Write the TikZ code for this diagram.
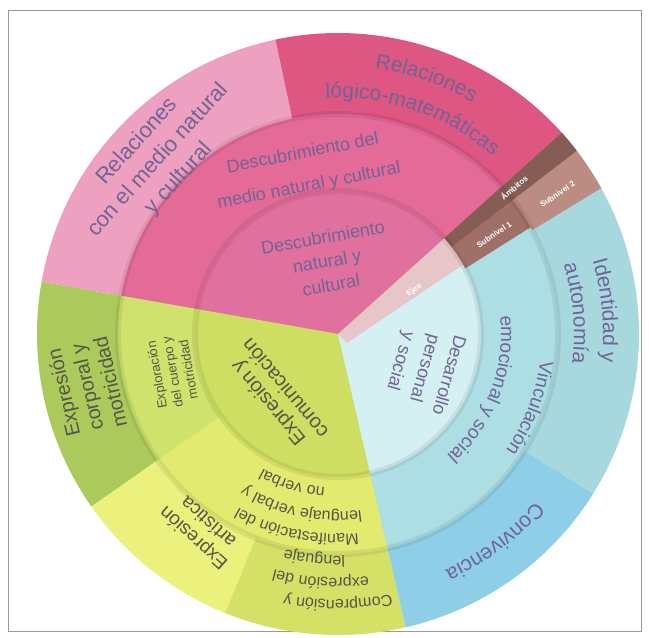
\documentclass[tikz,border=0pt]{standalone}
\usepackage{fontspec}
\setmainfont{Liberation Sans}
\usetikzlibrary{decorations.text}

\definecolor{rosaclaro}{RGB}{238,160,192}
\definecolor{rosafuerte}{RGB}{222,86,130}
\definecolor{rosamedio}{RGB}{228,106,152}
\definecolor{rosacentro}{RGB}{224,112,158}
\definecolor{verdeosc}{RGB}{172,202,92}
\definecolor{verdemed}{RGB}{206,226,108}
\definecolor{verdecentro}{RGB}{206,222,98}
\definecolor{amarillo}{RGB}{236,240,124}
\definecolor{amarillomed}{RGB}{226,234,112}
\definecolor{verdelengua}{RGB}{212,224,102}
\definecolor{celesteosc}{RGB}{142,206,230}
\definecolor{celesteid}{RGB}{166,216,222}
\definecolor{celestemed}{RGB}{172,222,228}
\definecolor{celestecentro}{RGB}{212,240,242}
\definecolor{cafe}{RGB}{160,112,104}
\definecolor{cafeclaro}{RGB}{186,140,130}
\definecolor{cafeosc}{RGB}{134,92,86}
\definecolor{ejes}{RGB}{230,198,200}
\definecolor{txtmorado}{RGB}{112,100,150}
\definecolor{txtverde}{RGB}{86,86,72}

\newcommand\tmorado[1]{\fontsize{#1}{#1}\selectfont\color{txtmorado}}
\newcommand\tverde[1]{\fontsize{#1}{#1}\selectfont\color{txtverde}}

\begin{document}
\begin{tikzpicture}[x=1pt, y=1pt,
    rotulo/.style={align=center, inner sep=0pt, text=txtmorado},
    rotuloverde/.style={rotulo, text=txtverde},
    rotulobanda/.style={inner sep=0pt, text=white, font=\bfseries\fontsize{8}{9}\selectfont},
    enarco/.style={decorate, decoration={text along path, text align=center, text={#1}}}]
\useasboundingbox (-338,-304) rectangle (311,334);
\draw[gray!80, line width=0.8] (-330,-297) rectangle (303,324);

\begin{scope}
    %% anillo exterior
    \fill[rosaclaro] (0,0) -- (102:301) arc[start angle=102, end angle=170, radius=301] -- cycle;
    \fill[rosafuerte] (0,0) -- (42:301) arc[start angle=42, end angle=102, radius=301] -- cycle;
    \fill[verdeosc] (0,0) -- (170:301) arc[start angle=170, end angle=215, radius=301] -- cycle;
    \fill[amarillo] (0,0) -- (215:301) arc[start angle=215, end angle=248, radius=301] -- cycle;
    \fill[verdelengua] (0,0) -- (248:301) arc[start angle=248, end angle=283, radius=301] -- cycle;
    \fill[celesteosc] (0,0) -- (-77:301) arc[start angle=-77, end angle=-32, radius=301] -- cycle;
    \fill[celesteid] (0,0) -- (-32:301) arc[start angle=-32, end angle=29, radius=301] -- cycle;
    \fill[cafeclaro] (0,0) -- (9,-9) -- (29:301) arc[start angle=29, end angle=42, radius=301] -- cycle;
    %% anillo medio
    \fill[rosamedio] (0,0) -- (42:220) arc[start angle=42, end angle=170, radius=220] -- cycle;
    \fill[verdemed] (0,0) -- (170:220) arc[start angle=170, end angle=215, radius=220] -- cycle;
    \fill[amarillomed] (0,0) -- (215:220) arc[start angle=215, end angle=283, radius=220] -- cycle;
    \fill[celestemed] (0,0) -- (-77:220) arc[start angle=-77, end angle=29, radius=220] -- cycle;
    \fill[cafe] (0,0) -- (9,-9) -- (29:220) arc[start angle=29, end angle=42, radius=220] -- cycle;
    \fill[cafeosc] (37.5:143) -- (37.5:301) arc[start angle=37.5, end angle=42, radius=301] -- (42:143) -- cycle;
    %% circulo central
    \fill[rosacentro] (0,0) -- (42:143) arc[start angle=42, end angle=170, radius=143] -- cycle;
    \fill[verdecentro] (0,0) -- (170:143) arc[start angle=170, end angle=283, radius=143] -- cycle;
    \fill[celestecentro] (0,0) -- (-77:143) arc[start angle=-77, end angle=29, radius=143] -- cycle;
    \fill[ejes] (0,0) -- (9,-9) -- (29:143) arc[start angle=29, end angle=42, radius=143] -- cycle;
    \draw[black, opacity=.07, line width=6] (0,0) circle (143);
    \draw[black, opacity=.07, line width=6] (0,0) circle (220);
\end{scope}

%% sector rosa
\node[rotulo, rotate=48, font=\fontsize{22}{28}\selectfont] (relmedio) at (136:250) {Relaciones\\con el medio natural\\y cultural};
\path[enarco={|\tmorado{21}|Relaciones}] (111:268) arc[start angle=111, end angle=31, radius=268];
\path[enarco={|\tmorado{21}|lógico-matemáticas}] (116:236) arc[start angle=116, end angle=26, radius=236];
\node[rotulo, rotate=11, font=\fontsize{18}{33}\selectfont] (descmedio) at (-32,164) {Descubrimiento del\\medio natural y cultural};
\node[rotulo, rotate=10, font=\fontsize{18}{24}\selectfont] (descubre) at (-11,73) {Descubrimiento\\natural y\\cultural};

%% sector celeste
\path[enarco={|\tmorado{21}|Identidad y}] (40:265) arc[start angle=40, end angle=-30, radius=265];
\path[enarco={|\tmorado{21}|autonomía}] (40:236) arc[start angle=40, end angle=-30, radius=236];
\path[enarco={|\tmorado{19}|Vinculación}] (19:204) arc[start angle=19, end angle=-61, radius=204];
\path[enarco={|\tmorado{19}|emocional y social}] (19:163) arc[start angle=19, end angle=-61, radius=163];
\path[enarco={|\tmorado{21}|Convivencia}] (-13:259) arc[start angle=-13, end angle=-93, radius=259];
\node[rotulo, rotate=-106, font=\fontsize{18}{25}\selectfont] (desarrollo) at (86,-34) {Desarrollo\\personal\\y social};

%% sector verde
\node[rotuloverde, rotate=130, font=\fontsize{20}{22}\selectfont] (expresion) at (-62,-62) {Expresión y\\comunicación};
\node[rotuloverde, rotate=103, font=\fontsize{20}{24}\selectfont] (corporal) at (192:257) {Expresión\\corporal y\\motricidad};
\node[rotuloverde, rotate=100, font=\fontsize{13}{16}\selectfont] (explora) at (193:170) {Exploración\\del cuerpo y\\motricidad};
\node[rotuloverde, rotate=138, font=\fontsize{19}{22}\selectfont] (artistica) at (235:240) {Expresión\\artística};
\path[enarco={|\tverde{16}|Manifestación del}] (298:200) arc[start angle=298, end angle=218, radius=200];
\path[enarco={|\tverde{16}|lenguaje verbal y}] (298:178) arc[start angle=298, end angle=218, radius=178];
\path[enarco={|\tverde{16}|no verbal}] (293:154) arc[start angle=293, end angle=213, radius=154];
\path[enarco={|\tverde{16}|Comprensión y}] (305:266) arc[start angle=305, end angle=235, radius=266];
\path[enarco={|\tverde{16}|expresión del}] (301:244) arc[start angle=301, end angle=231, radius=244];
\path[enarco={|\tverde{16}|lenguaje}] (299:222) arc[start angle=299, end angle=229, radius=222];

%% banda de ejes y ambitos
\node[rotulobanda, rotate=40] (ambitos) at (39.8:229) {Ámbitos};
\node[rotulobanda, rotate=34] (subuno) at (32.5:185) {Subnivel 1};
\node[rotulobanda, rotate=34] (subdos) at (32.5:260) {Subnivel 2};
\node[rotulobanda, rotate=35] (ejesrot) at (30:88) {Ejes};
\end{tikzpicture}
\end{document}
